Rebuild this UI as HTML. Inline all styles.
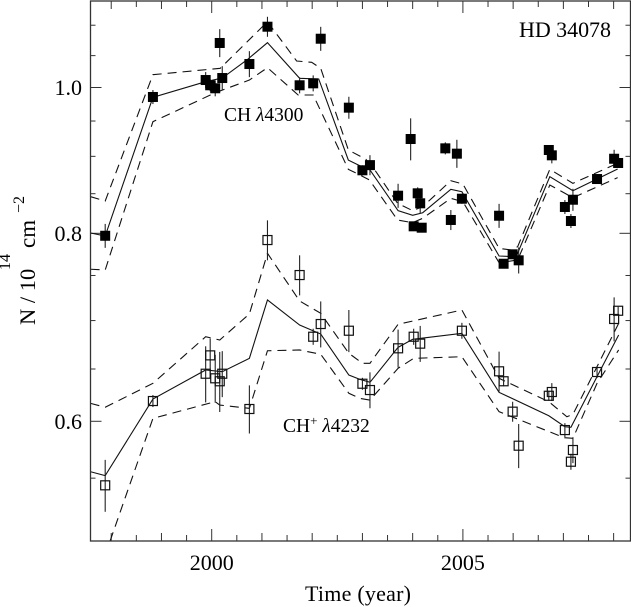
<!DOCTYPE html>
<html lang="en">
<head>
<meta charset="utf-8">
<title>HD 34078 column density</title>
<style>
html,body{margin:0;padding:0;background:#fff;width:631px;height:607px;overflow:hidden}
svg{display:block;font-family:"Liberation Serif",serif;fill:#000}
</style>
</head>
<body>
<svg id="chart" xmlns="http://www.w3.org/2000/svg" width="631" height="607" viewBox="0 0 631 607">
  <defs><clipPath id="plot-clip"><rect x="90.5" y="1.5" width="540" height="539.5"/></clipPath></defs>
  <g id="ticks"></g>
  <g id="models" clip-path="url(#plot-clip)"></g>
  <g id="errors"></g>
  <g id="points"></g>
  <rect x="90.5" y="1" width="540" height="540" fill="none" stroke="#333" stroke-width="1.3"/>
  <g id="labels" font-size="22"></g>
  <text x="519" y="37" font-size="22" textLength="92">HD 34078</text>
  <text x="224" y="121" font-size="19.5">CH <tspan font-style="italic">λ</tspan>4300</text>
  <text x="283" y="432" font-size="19.5">CH<tspan font-size="13" dy="-7">+</tspan><tspan dy="7"> </tspan><tspan font-style="italic">λ</tspan>4232</text>
  <text x="358" y="601" font-size="22" text-anchor="middle" textLength="106">Time (year)</text>
  <g>
    <text transform="translate(35 325) rotate(-90)" font-size="22.5">N / 10</text>
    <text transform="translate(10 270) rotate(-90)" font-size="16">14</text>
    <text transform="translate(35 248) rotate(-90)" font-size="23">cm</text>
    <text transform="translate(24 213) rotate(-90)" font-size="16">−2</text>
  </g>
</svg>
<script>
// Ticks
const xTicks = [1998,1998.5,1999,1999.5,2000,2000.5,2001,2001.5,2002,2002.5,2003,2003.5,2004,2004.5,2005,2005.5,2006,2006.5,2007,2007.5,2008];
const xTickLabels = [2000,2005];
const yTicks = [0.55,0.6,0.65,0.7,0.75,0.8,0.85,0.9,0.95,1.0,1.05,1.1];
const yTickLabels = ["0.6","0.8","1.0"];

// CH λ4300 measurements
const chYears = [1997.88,1998.83,1999.88,1999.97,2000.07,2000.16,2000.21,2000.75,2001.11,2001.75,2002.02,2002.17,2002.73,2003.00,2003.15,2003.71,2003.96,2004.02,2004.10,2004.15,2004.18,2004.65,2004.76,2004.88,2004.98,2005.72,2005.81,2005.99,2006.11,2006.71,2006.77,2007.03,2007.15,2007.19,2007.67,2008.01,2008.09];
const chValues = [.797,.9856,1.0115,1.0034,.9988,1.0705,1.0146,1.0366,1.0975,1.0034,1.0064,1.0775,.9696,.881,.888,.8474,.9242,.8086,.8505,.8376,.8069,.9111,.8165,.9037,.8435,.8218,.7636,.7747,.7676,.9088,.9014,.8329,.8152,.8422,.8693,.8967,.8909];
const chErrors = [.0146,.0106,.0124,.0092,.0122,.0229,.0186,.0206,.0168,.0123,.0123,.0198,.0163,.0067,.0136,.0156,.0297,.0037,.0078,.0128,.0025,.0084,.0125,.0194,.0065,.0151,.0035,.0036,.0153,.0042,.011,.0089,.0087,.0142,.004,.0124,.0055];

// CH+ λ4232 measurements
const chPlusYears = [1997.88,1998.83,1999.88,1999.97,2000.07,2000.16,2000.21,2000.75,2001.11,2001.75,2002.02,2002.17,2002.73,2003.00,2003.15,2003.71,2004.02,2004.15,2004.98,2005.72,2005.81,2005.99,2006.11,2006.71,2006.77,2007.03,2007.19,2007.15,2007.67,2008.01,2008.09];
const chPlusValues = [.544,.6189,.6453,.6637,.6408,.6379,.6453,.6114,.7918,.7505,.6829,.6963,.6892,.6355,.6294,.6709,.6829,.6757,.6892,.6477,.6379,.6089,.578,.6239,.6275,.592,.5742,.564,.647,.7017,.7106];
const chPlusErrors = [.0216,.0057,.0277,.0173,.0235,.0293,.0227,.0225,.0242,.023,.0084,.0245,.0222,.0058,.0173,.0195,.0084,.0186,.0084,.0198,.0049,.0093,.0195,.0048,.0086,.0063,.0114,.0069,.0059,.0236,.0044];

// CH model curve and envelopes
const chModelYears = [1997.59,1997.88,1998.83,1999.88,2000.21,2000.70,2001.11,2001.75,2002.13,2002.72,2003.00,2003.15,2003.71,2004.0,2004.2,2004.76,2004.98,2005.72,2006.06,2006.73,2007.19,2007.67,2008.08];
const chModelValues = [.8004,.7967,.9851,1.0089,1.0146,1.043,1.071,1.0142,1.0131,.8949,.8854,.8814,.8282,.8224,.8256,.8557,.8526,.7727,.7718,.8724,.8539,.8693,.8827];
const chUpperYears = [1997.59,1997.88,1998.83,2000.17,2001.11,2001.69,2001.99,2002.17,2002.72,2003.07,2003.27,2003.70,2004.0,2004.2,2004.76,2005.0,2005.72,2005.96,2006.09,2006.73,2007.19,2008.08];
const chUpperValues = [.8461,.8405,1.0198,1.0298,1.1059,1.0414,1.0393,1.0298,.9088,.8959,.8791,.8376,.8282,.8333,.8671,.8627,.7818,.7798,.7838,.8823,.8636,.8905];
const chLowerYears = [1997.59,1997.88,1998.83,2000.07,2000.75,2001.11,2001.72,2002.02,2002.72,2002.95,2003.14,2003.70,2004.0,2004.2,2004.76,2005.0,2005.72,2006.09,2006.73,2007.19,2008.08];
const chLowerValues = [.7572,.7563,.949,.992,1.0115,1.0308,.9886,.9886,.8823,.8747,.868,.8164,.8131,.8186,.844,.8396,.7648,.768,.8614,.8448,.8711];

// CH+ model curve and envelopes
const chPlusModelYears = [1997.59,1997.88,1998.83,1999.88,2000.21,2000.75,2001.11,2001.75,2002.17,2002.73,2002.95,2003.15,2003.71,2004.0,2004.98,2005.72,2006.71,2007.03,2007.15,2007.67,2008.1];
const chPlusModelValues = [.5554,.5521,.6208,.649,.6473,.6607,.7224,.6952,.6857,.644,.6398,.6369,.6719,.6802,.6865,.6272,.6051,.595,.5945,.6424,.6847];
const chPlusUpperYears = [1997.59,1997.88,1998.83,1999.88,2000.16,2000.75,2001.11,2001.75,2002.17,2002.73,2003.0,2003.15,2003.71,2004.98,2005.72,2006.71,2007.07,2007.19,2007.67,2008.1];
const chPlusUpperValues = [.6167,.613,.6359,.6829,.6795,.7071,.7759,.7213,.7078,.6658,.6557,.6557,.696,.7114,.6408,.6183,.6042,.6064,.6523,.697];
const chPlusLowerYears = [1997.88,1998.83,2000.07,2000.16,2000.75,2001.11,2001.75,2002.17,2002.73,2002.95,2003.15,2003.71,2004.02,2004.98,2005.72,2007.02,2007.19,2007.67,2008.1];
const chPlusLowerValues = [.489,.6027,.6183,.6151,.612,.6684,.6692,.6648,.6263,.6214,.6198,.6507,.6607,.6623,.6089,.5851,.5846,.6359,.6692];

// Axis functions
const SVG_NS = 'http://www.w3.org/2000/svg';
function xAxis(year){ return 211.7 + (year - 2000) * 50.24; }
function yAxis(v){ return 87.5 - Math.log10(v) * 1504.6; }
function make(tag, parent){
  const el = document.createElementNS(SVG_NS, tag);
  parent.appendChild(el);
  return el;
}

const ticksG = document.getElementById('ticks');
const modelsG = document.getElementById('models');
const errorsG = document.getElementById('errors');
const pointsG = document.getElementById('points');
const labelsG = document.getElementById('labels');

function tickLine(x1, y1, x2, y2){
  const t = make('line', ticksG);
  
  
  t.setAttribute('x1', x1);
  t.setAttribute('y1', y1);
  t.setAttribute('x2', x2);
  t.setAttribute('y2', y2);
  t.setAttribute('stroke', '#333');
  t.setAttribute('stroke-width', '1');
}

xTicks.forEach(function(year){
  const major = xTickLabels.indexOf(year) >= 0;
  const whole = Number.isInteger(year);
  const len = major ? 12 : (whole ? 8 : 6);
  const x = xAxis(year);
  tickLine(x, 541, x, 541 - len);
  tickLine(x, 1, x, 1 + len);
});

yTicks.forEach(function(v){
  const major = yTickLabels.indexOf(v.toFixed(1)) >= 0 && Math.abs(v * 10 - Math.round(v * 10)) < 1e-6;
  const len = major ? 11 : 5;
  const y = yAxis(v);
  tickLine(90.5, y, 90.5 + len, y);
  tickLine(630.5, y, 630.5 - len, y);
});

xTickLabels.forEach(function(year){
  const t = make('text', labelsG);
  
  
  t.setAttribute('x', xAxis(year));
  t.setAttribute('y', 570);
  t.setAttribute('text-anchor', 'middle');
  t.textContent = year;
});

yTickLabels.forEach(function(label){
  const t = make('text', labelsG);
  
  
  t.setAttribute('x', 82);
  t.setAttribute('y', yAxis(parseFloat(label)) + 7.5);
  t.setAttribute('text-anchor', 'end');
  t.textContent = label;
});

function drawCurve(years, values, dashed, name){
  const p = make('polyline', modelsG);
  
  
  p.setAttribute('points', years.map(function(yr, i){ return xAxis(yr) + ',' + yAxis(values[i]); }).join(' '));
  p.setAttribute('fill', 'none');
  p.setAttribute('stroke', '#111');
  p.setAttribute('stroke-width', '1.1');
  if (dashed) p.setAttribute('stroke-dasharray', '9 6');
}

drawCurve(chModelYears, chModelValues, false, 'ch-model-line');
drawCurve(chUpperYears, chUpperValues, true, 'ch-upper-envelope');
drawCurve(chLowerYears, chLowerValues, true, 'ch-lower-envelope');
drawCurve(chPlusModelYears, chPlusModelValues, false, 'ch-plus-model-line');
drawCurve(chPlusUpperYears, chPlusUpperValues, true, 'ch-plus-upper-envelope');
drawCurve(chPlusLowerYears, chPlusLowerValues, true, 'ch-plus-lower-envelope');

function drawSeries(years, values, errs, filled, seriesName){
  years.forEach(function(yr, i){
    const x = xAxis(yr);
    const e = make('line', errorsG);
    
    
    e.setAttribute('x1', x);
    e.setAttribute('x2', x);
    e.setAttribute('y1', yAxis(values[i] + errs[i]));
    e.setAttribute('y2', yAxis(values[i] - errs[i]));
    e.setAttribute('stroke', '#222');
    e.setAttribute('stroke-width', '1.1');
    const r = make('rect', pointsG);
    
    
    const y = yAxis(values[i]);
    if (filled) {
      r.setAttribute('x', x - 5);
      r.setAttribute('y', y - 5);
      r.setAttribute('width', 10);
      r.setAttribute('height', 10);
      r.setAttribute('fill', '#000');
    } else {
      r.setAttribute('x', x - 4.5);
      r.setAttribute('y', y - 4.5);
      r.setAttribute('width', 9);
      r.setAttribute('height', 9);
      r.setAttribute('fill', 'none');
      r.setAttribute('stroke', '#111');
      r.setAttribute('stroke-width', '1.2');
    }
  });
}

drawSeries(chYears, chValues, chErrors, true, 'ch');
drawSeries(chPlusYears, chPlusValues, chPlusErrors, false, 'ch-plus');
</script>
</body>
</html>
